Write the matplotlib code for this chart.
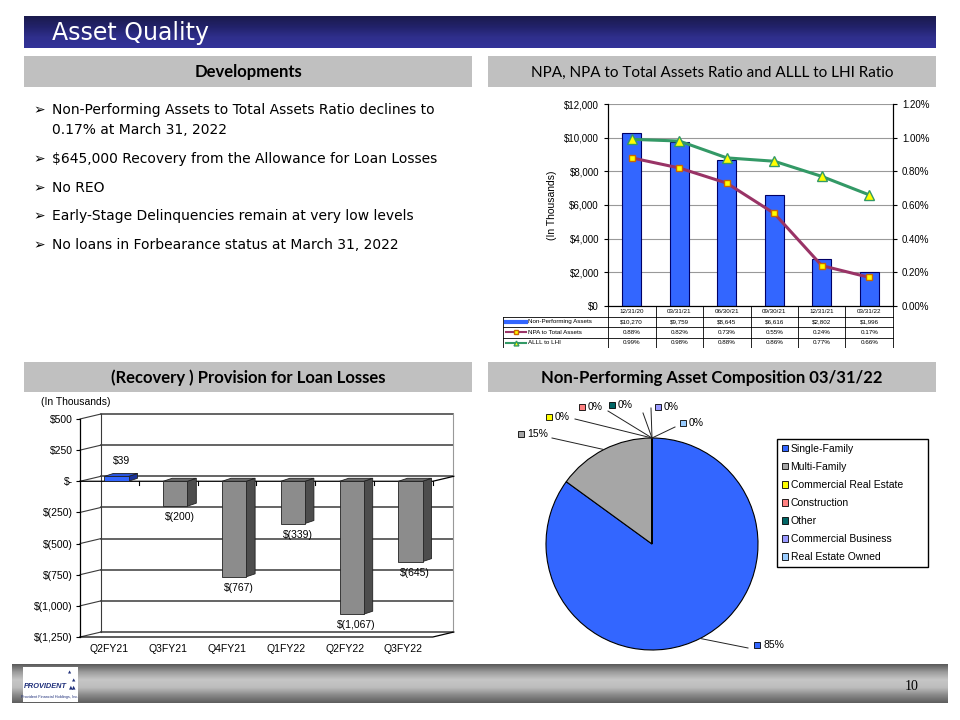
import matplotlib
matplotlib.use('Agg')
import matplotlib.pyplot as plt
import numpy as np
from matplotlib.patches import Rectangle, Polygon, Patch
from matplotlib.colors import LinearSegmentedColormap

plt.rcParams['font.family'] = ['Liberation Sans', 'DejaVu Sans']

# --- data ---
npa_dates = ['12/31/20', '03/31/21', '06/30/21', '09/30/21', '12/31/21', '03/31/22']
npa_amount = [10270, 9759, 8645, 6616, 2802, 1996]          # $ thousands
npa_to_assets = [0.88, 0.82, 0.73, 0.55, 0.24, 0.17]       # %
alll_to_lhi = [0.99, 0.98, 0.88, 0.86, 0.77, 0.66]         # %

quarters = ['Q2FY21', 'Q3FY21', 'Q4FY21', 'Q1FY22', 'Q2FY22', 'Q3FY22']
provision = [39, -200, -767, -339, -1067, -645]            # $ thousands
prov_ticks = [500, 250, 0, -250, -500, -750, -1000, -1250]

pie_labels = ['Single-Family', 'Multi-Family', 'Commercial Real Estate',
              'Construction', 'Other', 'Commercial Business', 'Real Estate Owned']
pie_share = [85, 15, 0, 0, 0, 0, 0]
pie_colors = ['#3366FF', '#A6A6A6', '#FFFF00', '#FF8080', '#006666', '#9999FF', '#99CCFF']

bullets = [
    ('Non-Performing Assets to Total Assets Ratio declines to', True),
    ('0.17% at March 31, 2022', False),
    ('$645,000 Recovery from the Allowance for Loan Losses', True),
    ('No REO', True),
    ('Early-Stage Delinquencies remain at very low levels', True),
    ('No loans in Forbearance status at March 31, 2022', True),
]
bullet_y = [110, 130, 159, 188, 216, 245]

W, H = 960, 720
fig = plt.figure(figsize=(9.6, 7.2), dpi=100)


def box(x0, y0, x1, y1):
    # pixel rectangle (top-left origin) -> figure fraction
    return [x0 / W, 1 - y1 / H, (x1 - x0) / W, (y1 - y0) / H]


def money(v):
    if v == 0:
        return '$-'
    return f'$({abs(v):,})' if v < 0 else f'${v:,}'


# ---------- slide background ----------
bg = fig.add_axes([0, 0, 1, 1], zorder=0)
bg.axis('off')

title_cmap = LinearSegmentedColormap.from_list('t', ['#1b1b4d', '#22226a', '#2f2f8c', '#333399'])
bg.imshow(np.linspace(0, 1, 64).reshape(-1, 1), extent=(24, 936, 48, 16), cmap=title_cmap, aspect='auto')
bg.text(52, 33, 'Asset Quality', color='white', fontsize=17, family='DejaVu Sans', va='center')

foot_cmap = LinearSegmentedColormap.from_list('f', ['#5a5a5a', '#9c9c9c', '#c6c6c6', '#bdbdbd', '#8a8a8a', '#5e5e5e'])
bg.imshow(np.linspace(0, 1, 64).reshape(-1, 1), extent=(12, 948, 703, 664), cmap=foot_cmap, aspect='auto')
bg.add_patch(Rectangle((23, 667), 55, 35, fc='white', ec='none'))
bg.text(24, 686, 'PROVIDENT', color='#1f2f7a', fontsize=5.3, weight='bold', style='italic', va='center')
bg.text(73, 687, '▲▲', color='#1f2f7a', fontsize=3.5, ha='center', va='center', family='DejaVu Sans')
bg.text(74, 681, '▲', color='#1f2f7a', fontsize=3.2, ha='center', va='center', family='DejaVu Sans')
bg.text(70, 673, '▲', color='#1f2f7a', fontsize=3, ha='center', va='center', family='DejaVu Sans')
bg.text(50, 697, 'Provident Financial Holdings, Inc.', color='#1f2f7a', fontsize=2.8, ha='center', va='center')
bg.text(912, 686, '10', fontsize=10, family='Liberation Serif', ha='center', va='center')

for (x0, y0, x1, y1, txt, fw, fs) in [
        (24, 56, 472, 87, 'Developments', 'bold', 12),
        (488, 56, 936, 87, 'NPA, NPA to Total Assets Ratio and ALLL to LHI Ratio', 'normal', 11),
        (24, 362, 472, 392, '(Recovery ) Provision for Loan Losses', 'bold', 12),
        (488, 362, 936, 392, 'Non-Performing Asset Composition 03/31/22', 'bold', 12)]:
    bg.add_patch(Rectangle((x0, y0), x1 - x0, y1 - y0, fc='#C0C0C0', ec='none'))
    bg.text((x0 + x1) / 2, (y0 + y1) / 2 + 1, txt, ha='center', va='center', fontsize=fs,
            weight=fw, family='Lato')

for (txt, has_bullet), y in zip(bullets, bullet_y):
    if has_bullet:
        bg.text(33, y, '➢', fontsize=10, family='DejaVu Sans', va='center')
    bg.text(52, y, txt, fontsize=10, va='center', family='DejaVu Sans')

bg.set_xlim(0, W)
bg.set_ylim(H, 0)

# ---------- NPA bar + ratio lines ----------
ax = fig.add_axes(box(608, 104, 893, 306))
x = np.arange(len(npa_dates))
ax.bar(x, npa_amount, width=0.4, color='#3366FF', edgecolor='#000066', linewidth=0.8, zorder=2)
ax.set_xlim(-0.5, len(x) - 0.5)
ax.set_ylim(0, 12000)
ax.set_yticks(range(0, 12001, 2000))
ax.yaxis.set_major_formatter(lambda v, p: f'${v:,.0f}')
ax.set_xticks([])
ax.grid(axis='y', color='#999999', lw=0.8)
ax.set_axisbelow(True)
ax.tick_params(labelsize=7, length=3)
ax.set_ylabel('(In Thousands)', fontsize=7.5)
ax.yaxis.set_label_coords(-0.18, 0.5)

ax2 = ax.twinx()
ax2.plot(x, alll_to_lhi, color='#339966', lw=2.2, marker='^', ms=6.5, mfc='#FFFF00', mec='#339966', zorder=3)
ax2.plot(x, npa_to_assets, color='#993366', lw=2.2, marker='s', ms=5, mfc='#FFFF00', mec='#CC6600', zorder=3)
ax2.set_ylim(0, 1.2)
ax2.set_yticks(np.arange(0, 1.21, 0.2))
ax2.yaxis.set_major_formatter(lambda v, p: f'{v:.2f}%')
ax2.tick_params(labelsize=7, length=3)
for a in (ax, ax2):
    a.spines['top'].set_visible(False)

# data table under the chart
tb = fig.add_axes(box(503, 306, 894, 348))
tb.axis('off')
col_x = np.linspace(608, 893, len(npa_dates) + 1)
row_y = [306, 316.5, 327, 337.5, 348]
lw_t = 0.6
for cx in col_x:
    tb.plot([cx, cx], [row_y[0], row_y[-1]], color='black', lw=lw_t)
tb.plot([503, 503], [row_y[1], row_y[-1]], color='black', lw=lw_t)
tb.plot([608, 893], [row_y[0], row_y[0]], color='black', lw=lw_t)
for ry in row_y[1:]:
    tb.plot([503, 893], [ry, ry], color='black', lw=lw_t)
centers = (col_x[:-1] + col_x[1:]) / 2
for cx, d in zip(centers, npa_dates):
    tb.text(cx, (row_y[0] + row_y[1]) / 2, d, fontsize=4.5, ha='center', va='center')
rows = [
    ('Non-Performing Assets', [f'${v:,}' for v in npa_amount], dict(color='#3366FF', lw=3)),
    ('NPA to Total Assets', [f'{v:.2f}%' for v in npa_to_assets],
     dict(color='#993366', lw=1.5, marker='s', ms=3, mfc='#FFFF00', mec='#CC6600')),
    ('ALLL to LHI', [f'{v:.2f}%' for v in alll_to_lhi],
     dict(color='#339966', lw=1.5, marker='^', ms=3.5, mfc='#FFFF00', mec='#339966')),
]
for k, (name, vals, style) in enumerate(rows):
    yc = (row_y[k + 1] + row_y[k + 2]) / 2
    tb.plot([506, 516, 526], [yc, yc, yc], markevery=[1], **style)
    tb.text(528, yc, name, fontsize=4.5, va='center')
    for cx, s in zip(centers, vals):
        tb.text(cx, yc, s, fontsize=4.5, ha='center', va='center')
tb.set_xlim(503, 894)
tb.set_ylim(348, 306)

# ---------- 3-D style provision bars ----------
ax3 = fig.add_axes(box(80, 414, 453, 637))
cat_px = 58.8
xmax = 373 / cat_px
ax3.set_xlim(0, xmax)
ax3.set_ylim(-1250, 540)
ddx, ddy = 21 / cat_px, 40          # wall depth
for s in ax3.spines.values():
    s.set_visible(False)

grid_c = '#3a3a3a'
for t in prov_ticks:
    ax3.plot([ddx, xmax], [t + ddy, t + ddy], color=grid_c, lw=1.1, clip_on=False, zorder=1)
    ax3.plot([0, ddx], [t, t + ddy], color=grid_c, lw=0.8, clip_on=False, zorder=1)
ax3.plot([ddx, ddx], [-1250 + ddy, 500 + ddy], color=grid_c, lw=0.8, clip_on=False, zorder=1)
ax3.plot([xmax, xmax], [-1250 + ddy, 500 + ddy], color='#999999', lw=0.8, clip_on=False, zorder=1)
ax3.plot([0, 0], [-1250, 500], color='black', lw=0.9, clip_on=False, zorder=2)
n = len(quarters)
ax3.plot([0, n, n + ddx], [-1250, -1250, -1250 + ddy], color='black', lw=0.9, clip_on=False, zorder=2)
ax3.plot([0, n, n + ddx], [0, 0, ddy], color='black', lw=0.9, clip_on=False, zorder=2)
for i in range(1, n + 1):
    ax3.plot([i, i], [0, -30], color='black', lw=0.8, clip_on=False, zorder=2)

bw, bdx, bdy, shift = 0.41, 9 / cat_px, 24, 0.12
for i, v in enumerate(provision):
    if v > 0:
        fc, sc, tc = '#3366FF', '#1a3399', '#2a55dd'
    else:
        fc, sc, tc = '#8c8c8c', '#4d4d4d', '#6b6b6b'
    xl = i + 0.5 + shift - bw / 2
    xr = xl + bw
    lo, hi = min(v, 0), max(v, 0)
    ax3.add_patch(Polygon([(xr, lo), (xr + bdx, lo + bdy), (xr + bdx, hi + bdy), (xr, hi)],
                          fc=sc, ec='#222222', lw=0.6, zorder=3))
    ax3.add_patch(Polygon([(xl, hi), (xr, hi), (xr + bdx, hi + bdy), (xl + bdx, hi + bdy)],
                          fc=tc, ec='#222222', lw=0.6, zorder=3))
    ax3.add_patch(Rectangle((xl, lo), bw, hi - lo, fc=fc, ec='#222222', lw=0.6, zorder=4))
    off = 15 if v > 0 else -11
    ax3.annotate(money(v), (i + 0.7, v), xytext=(0, off), textcoords='offset pixels',
                 ha='center', va='center', fontsize=7.5, zorder=5)

ax3.set_yticks(prov_ticks)
ax3.set_yticklabels([money(t) for t in prov_ticks])
ax3.set_xticks(np.arange(n) + 0.5)
ax3.set_xticklabels(quarters)
ax3.tick_params(axis='y', labelsize=7.5, length=3, pad=2)
ax3.tick_params(axis='x', labelsize=7.5, length=0, pad=5)
bg.text(41, 402, '(In Thousands)', fontsize=7.5, va='center')

# ---------- pie ----------
cx0, cy0, R = 652, 544, 106
axp = fig.add_axes(box(500, 395, 800, 660))
wedges, _ = axp.pie(pie_share, colors=pie_colors, startangle=90, counterclock=False,
                    wedgeprops=dict(edgecolor='black', linewidth=0.8))
axp.set_xlim((500 - cx0) / R, (800 - cx0) / R)
axp.set_ylim((cy0 - 660) / R, (cy0 - 395) / R)
axp.set_aspect('equal', adjustable='box')


def to_pie(px, py):
    return (px - cx0) / R, (cy0 - py) / R


# leader end, marker, text positions (pixels)
label_pos = [((748, 648), (757, 645)), ((552, 438), (521, 434)), ((575, 419), (549, 417)),
             ((608, 411), (582, 407)), ((643, 413), (612, 405)), ((651, 408), (658, 407)),
             ((675, 427), (683, 423))]
for w, share, col, (p1, mk) in zip(wedges, pie_share, pie_colors, label_pos):
    ang = np.deg2rad((w.theta1 + w.theta2) / 2)
    p0 = (np.cos(ang), np.sin(ang))
    q1 = to_pie(*p1)
    axp.plot([p0[0], q1[0]], [p0[1], q1[1]], color='#222222', lw=0.7, clip_on=False)
    m = to_pie(*mk)
    axp.plot([m[0]], [m[1]], marker='s', ms=4.5, mfc=col, mec='black', mew=0.6, clip_on=False)
    t = to_pie(mk[0] + 6, mk[1])
    axp.text(t[0], t[1], f'{share}%', fontsize=7.5, va='center', ha='left')

handles = [Patch(fc=c, ec='black', lw=0.6) for c in pie_colors]
fig.legend(handles, pie_labels, loc='upper left',
           bbox_to_anchor=(777 / W, 1 - 439 / H, 151 / W, 0.0), mode='expand',
           fancybox=False, edgecolor='black', framealpha=1, fontsize=7.5,
           handlelength=0.6, handleheight=0.6, handletextpad=0.25,
           labelspacing=0.78, borderpad=0.45, borderaxespad=0)

fig.savefig('out.png', dpi=100)
